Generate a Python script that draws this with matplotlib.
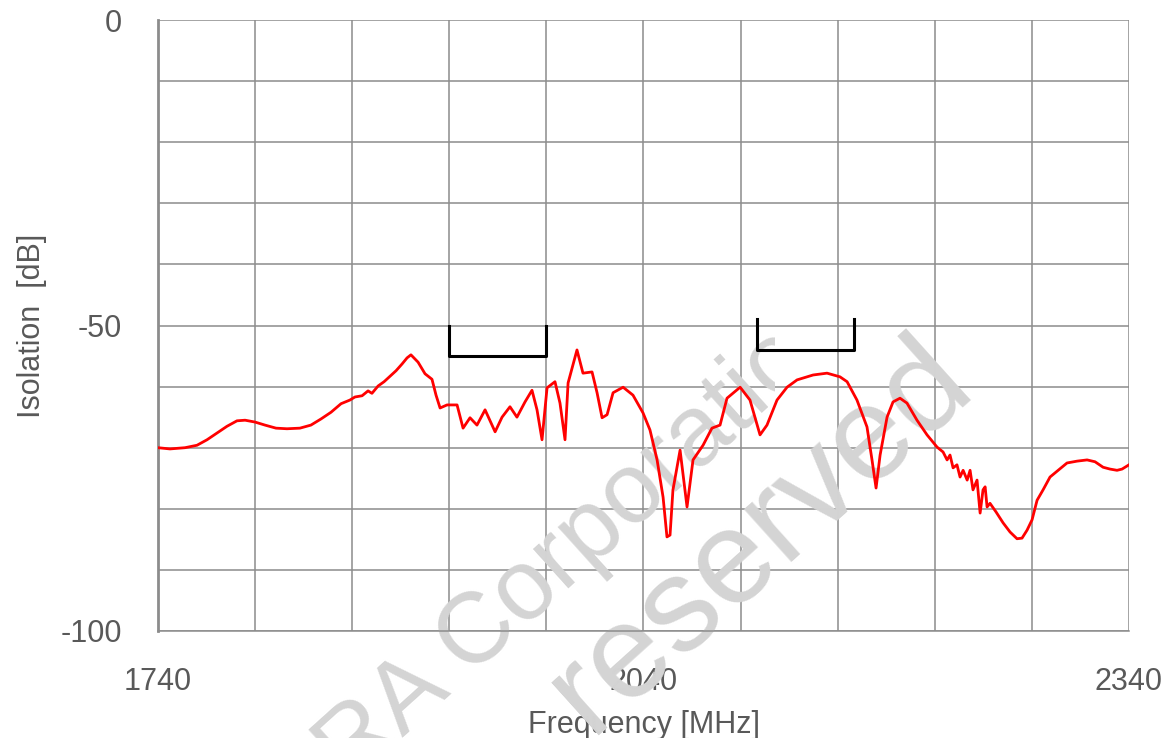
import numpy as np
import matplotlib.pyplot as plt
from matplotlib.transforms import Bbox

plt.rcParams['font.family'] = ['Liberation Sans', 'DejaVu Sans']

# isolation trace (MHz, dB)
freq = [1740.0, 1747.4, 1756.7, 1764.1, 1770.3, 1776.5, 1782.6, 1788.8, 1793.8, 1799.9,
        1806.1, 1812.9, 1819.7, 1827.7, 1834.5, 1840.7, 1846.9, 1853.1, 1858.6, 1861.7,
        1866.1, 1869.8, 1872.2, 1876.0, 1879.7, 1883.4, 1887.1, 1890.8, 1893.9, 1896.3,
        1900.7, 1905.0, 1909.3, 1911.8, 1914.3, 1918.6, 1924.8, 1928.5, 1932.8, 1937.1,
        1942.1, 1948.3, 1952.6, 1957.5, 1961.8, 1966.8, 1971.1, 1974.2, 1977.3, 1980.4,
        1985.3, 1988.4, 1991.5, 1993.4, 1998.9, 2002.6, 2008.2, 2011.3, 2014.4, 2017.5,
        2021.2, 2027.4, 2033.5, 2039.7, 2044.0, 2048.4, 2052.1, 2054.5, 2056.4, 2058.2,
        2062.6, 2066.9, 2070.6, 2076.8, 2082.3, 2087.3, 2091.6, 2099.7, 2105.8, 2112.0,
        2116.3, 2122.5, 2128.7, 2134.9, 2144.8, 2153.4, 2161.4, 2165.8, 2171.9, 2178.1,
        2181.2, 2183.7, 2186.2, 2190.5, 2194.2, 2198.5, 2202.8, 2209.0, 2215.2, 2221.4,
        2225.1, 2227.6, 2229.4, 2231.3, 2233.7, 2235.6, 2237.5, 2240.0, 2241.8, 2243.6,
        2246.1, 2248.0, 2249.8, 2251.1, 2252.3, 2254.1, 2257.8, 2262.2, 2266.5, 2270.8,
        2273.9, 2277.0, 2280.1, 2283.2, 2286.9, 2291.2, 2296.2, 2301.7, 2307.9, 2314.1,
        2319.0, 2324.0, 2328.3, 2332.6, 2335.7, 2340.0]
isolation = [-70.0, -70.2, -70.0, -69.6, -68.7, -67.6, -66.5, -65.6, -65.5, -65.8,
             -66.3, -66.8, -66.9, -66.8, -66.3, -65.3, -64.2, -62.8, -62.2, -61.7,
             -61.5, -60.7, -61.1, -59.9, -59.2, -58.3, -57.4, -56.3, -55.3, -54.8,
             -56.0, -57.9, -58.8, -61.4, -63.5, -63.0, -63.0, -66.8, -65.1, -66.3,
             -63.8, -67.4, -65.0, -63.3, -65.0, -62.5, -60.6, -63.8, -68.7, -60.2,
             -59.2, -62.7, -68.7, -59.4, -54.0, -57.8, -57.6, -61.0, -65.1, -64.6,
             -61.0, -60.1, -61.4, -64.3, -67.1, -72.0, -78.1, -84.6, -84.3, -76.9,
             -70.4, -79.7, -72.0, -69.6, -66.8, -66.3, -61.9, -60.1, -62.2, -67.9,
             -66.3, -62.2, -60.1, -58.9, -58.1, -57.8, -58.4, -59.2, -62.2, -66.6,
             -72.0, -76.6, -71.2, -65.0, -62.5, -61.9, -62.7, -65.5, -67.9, -69.9,
             -70.7, -72.0, -71.2, -73.3, -72.8, -74.8, -73.7, -75.3, -73.7, -76.9,
             -75.3, -80.7, -76.9, -76.4, -79.7, -79.1, -80.5, -82.3, -83.8, -84.9,
             -84.8, -83.5, -81.8, -78.6, -76.9, -74.8, -73.7, -72.5, -72.2, -72.0,
             -72.3, -73.2, -73.5, -73.7, -73.5, -72.8]

# band markers (MHz) with level and top of the bracket (dB)
band_tx = [1920, 1980]
band_tx_level = [-55, -50]
band_rx = [2110, 2170]
band_rx_level = [-54, -49]

x_ticks = list(range(1740, 2341, 60))
x_labels = ['1740', '', '', '', '', '2040', '', '', '', '', '2340']
y_ticks = list(range(-100, 1, 10))
y_labels = ['-100', '', '', '', '', '-50', '', '', '', '', '0']

W, H = 1166, 738
fig = plt.figure(figsize=(W / 100, H / 100), dpi=100)
ax = fig.add_axes([158 / W, 1 - 631 / H, (1129 - 158) / W, (631 - 20) / H])

ax.set_xlim(1740, 2340)
ax.set_ylim(-100, 0)
ax.set_xticks(x_ticks)
ax.set_xticklabels(x_labels)
ax.set_yticks(y_ticks)
ax.set_yticklabels(y_labels)
ax.tick_params(length=0, labelsize=22, labelcolor='#595959')
ax.tick_params(axis='y', pad=26)
ax.tick_params(axis='x', pad=26)
ax.grid(True, color='#8c8c8c', linewidth=1.1)
ax.set_axisbelow(True)
for side in ['top', 'right']:
    ax.spines[side].set_visible(False)
ax.spines['bottom'].set_color('#8c8c8c')
ax.spines['bottom'].set_linewidth(1.1)
ax.spines['left'].set_color('#8c8c8c')
ax.spines['left'].set_linewidth(2.0)

ax.set_xlabel('Frequency [MHz]', fontsize=22, color='#595959', labelpad=9)
ax.set_ylabel('Isolation  [dB]', fontsize=22, color='#595959', labelpad=9.5)

ax.plot(freq, isolation, color='#ff0000', linewidth=2.0, zorder=3)

for band, lev in [(band_tx, band_tx_level), (band_rx, band_rx_level)]:
    ax.plot([band[0], band[0], band[1], band[1]], [lev[1], lev[0], lev[0], lev[1]],
            color='black', linewidth=2.2, zorder=3)

# watermark (pixel positions on the figure)
t1 = ax.text(857, H - 329, 'KYOCERA Corporation', transform=None, fontsize=72,
             color='#d4d4d4', rotation=42, rotation_mode='anchor', ha='right',
             va='baseline', zorder=1.5, clip_on=True)
t1.set_clip_path(None)
t1.set_clip_box(Bbox.from_extents(0, 0, 775, H))
t2 = ax.text(976, H - 388, 'reserved', transform=None, fontsize=96,
             color='#d4d4d4', rotation=42, rotation_mode='anchor', ha='right',
             va='baseline', zorder=1.5)

plt.savefig('out.png', dpi=100)
